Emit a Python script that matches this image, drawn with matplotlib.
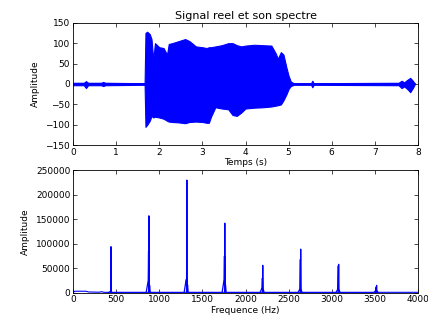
import numpy as np
import matplotlib
matplotlib.use('Agg')
import matplotlib.pyplot as plt

t_env = [0.00, 0.25, 0.30, 0.35, 0.65, 0.70, 0.75, 1.60, 1.66,
         1.68, 1.72, 1.78, 1.82, 1.86, 1.90, 2.00, 2.10, 2.18, 2.22,
         2.30, 2.45, 2.60, 2.70, 2.85, 3.00, 3.10, 3.15, 3.20, 3.30,
         3.45, 3.60, 3.70, 3.80, 3.90, 4.00, 4.20, 4.40, 4.60, 4.70,
         4.75, 4.82, 4.88, 4.95, 5.00, 5.05, 5.12, 5.52, 5.55, 5.58,
         7.55, 7.62, 7.68, 7.75, 7.82, 7.88, 7.92]
upper = [3, 3, 7, 3, 3, 5, 3, 2, 2,
         125, 128, 122, 110, 60, 100, 90, 88, 72, 98,
         100, 105, 110, 105, 92, 90, 88, 90, 90, 92,
         95, 100, 100, 95, 92, 94, 96, 95, 94, 75,
         62, 78, 72, 40, 20, 6, 2, 2, 8, 2,
         3, 8, 4, 10, 15, 8, 2]
lower = [-3, -3, -10, -3, -3, -5, -3, -2, -2,
         -105, -100, -90, -78, -82, -80, -82, -85, -90, -92,
         -93, -94, -96, -93, -92, -93, -95, -95, -80, -57,
         -60, -62, -76, -78, -70, -60, -58, -57, -55, -53,
         -52, -50, -40, -25, -12, -5, -2, -2, -8, -2,
         -3, -10, -6, -12, -20, -10, -2]

# Spectrum peaks (harmonics of 440 Hz)
peak_freq = [440, 880, 1320, 1760, 2200, 2640, 3080, 3520]
peak_amp = [94000, 157000, 230000, 142000, 56000, 89000, 58000, 15000]
side_amp = [4000, 85000, 27000, 75000, 30000, 68000, 55000, 12000]
skirt_amp = [2000, 25000, 27000, 27000, 10000, 8000, 8000, 5000]

# Low frequency floor
floor_freq = [0, 20, 150, 180, 300, 330, 360, 4000]
floor_amp = [0, 3000, 3000, 1500, 1000, 2000, 800, 800]

FS = 6.5
plt.rcParams['font.size'] = FS
plt.rcParams['xtick.direction'] = 'in'
plt.rcParams['ytick.direction'] = 'in'
plt.rcParams['xtick.top'] = True
plt.rcParams['ytick.right'] = True

fig = plt.figure(figsize=(4.28, 3.2), dpi=100)
ax1 = fig.add_axes([0.1706, 0.546, 0.806, 0.383])
ax2 = fig.add_axes([0.1706, 0.0853, 0.806, 0.3825])

ax1.fill_between(t_env, lower, upper, color='b', linewidth=0.8)
ax1.plot(t_env, np.zeros(len(t_env)), color='b', linewidth=1.2)
ax1.set_xlim(0, 8)
ax1.set_ylim(-150, 150)
ax1.set_xlabel('Temps (s)', labelpad=1)
ax1.set_ylabel('Amplitude')
ax1.set_title('Signal reel et son spectre', fontsize=8, pad=3)

# build spectrum line from the peak table
w = 8
fx, fy = [], []
for f, a, s, k in zip(peak_freq, peak_amp, side_amp, skirt_amp):
    fx += [f - 4 * w, f - w, f - 4, f - 2, f, f + 2, f + w, f + 2 * w]
    fy += [0, k, s, 0, a, 0, k * 0.6, 0]
ax2.plot(floor_freq, floor_amp, color='b', linewidth=0.8)
ax2.plot(fx, fy, color='b', linewidth=0.9)
ax2.set_xlim(0, 4000)
ax2.set_ylim(0, 250000)
ax2.set_xlabel('Frequence (Hz)', labelpad=1)
ax2.set_ylabel('Amplitude')

for ax in (ax1, ax2):
    ax.tick_params(length=3, width=0.5, pad=2)
    for sp in ax.spines.values():
        sp.set_linewidth(0.6)

fig.savefig('out.png', dpi=100)
